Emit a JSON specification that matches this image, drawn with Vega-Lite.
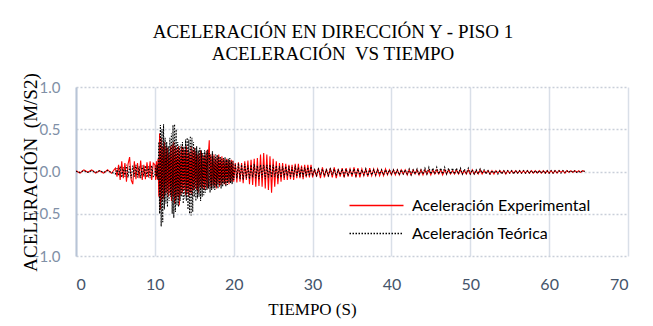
{
  "$schema": "https://vega.github.io/schema/vega-lite/v6.json",
  "autosize": "none",
  "width": 552,
  "height": 169,
  "padding": {"left": 76, "top": 87, "right": 25, "bottom": 70},
  "background": "white",
  "title": {
    "text": ["ACELERACIÓN EN DIRECCIÓN Y - PISO 1", "ACELERACIÓN\u00a0 VS TIEMPO"],
    "font": "Liberation Serif",
    "fontSize": 19,
    "fontWeight": "normal",
    "color": "#000000",
    "lineHeight": 22,
    "anchor": "middle",
    "offset": 9,
    "dx": -19
  },
  "data": {
    "values": [
      {"t":0,"e":0.01,"o":0},{"t":0.5,"e":-0.02,"o":-0.01},{"t":1,"e":0.02,"o":0.01},{"t":1.5,"e":-0.01,"o":-0.01},{"t":2,"e":0.02,"o":0.01},
      {"t":2.5,"e":-0.02,"o":-0.01},{"t":3,"e":0.01,"o":0.01},{"t":3.5,"e":-0.02,"o":-0.01},{"t":4,"e":0.02,"o":0.01},{"t":4.5,"e":-0.02,"o":-0.01},
      {"t":5.0,"e":0.04,"o":-0.03},{"t":5.2,"e":-0.06,"o":0.04},{"t":5.4,"e":0.08,"o":-0.05},{"t":5.6,"e":-0.1,"o":0.06},{"t":5.8,"e":0.12,"o":-0.07},
      {"t":6.0,"e":-0.08,"o":0.05},{"t":6.2,"e":0.1,"o":-0.06},{"t":6.4,"e":-0.12,"o":0.08},{"t":6.6,"e":0.09,"o":-0.07},{"t":6.8,"e":0.17,"o":0.06},
      {"t":7.0,"e":-0.1,"o":-0.08},{"t":7.2,"e":-0.15,"o":0.07},{"t":7.4,"e":0.12,"o":-0.06},{"t":7.6,"e":-0.09,"o":0.08},{"t":7.8,"e":0.1,"o":-0.07},
      {"t":8.0,"e":-0.08,"o":0.06},{"t":8.2,"e":0.13,"o":-0.08},{"t":8.4,"e":-0.1,"o":0.07},{"t":8.6,"e":0.08,"o":-0.06},{"t":8.8,"e":-0.09,"o":0.07},
      {"t":9.0,"e":0.11,"o":-0.07},{"t":9.2,"e":-0.07,"o":0.06},{"t":9.4,"e":0.12,"o":-0.08},{"t":9.6,"e":-0.1,"o":0.07},{"t":9.8,"e":0.1,"o":-0.06},
      {"t":10.0,"e":0.08,"o":-0.05},{"t":10.1,"e":-0.1,"o":0.07},{"t":10.2,"e":0.12,"o":-0.06},{"t":10.3,"e":-0.09,"o":0.08},{"t":10.4,"e":0.15,"o":-0.1},
      {"t":10.5,"e":-0.3,"o":0.35},{"t":10.6,"e":0.45,"o":-0.5},{"t":10.7,"e":-0.45,"o":0.55},{"t":10.8,"e":0.4,"o":-0.65},{"t":10.9,"e":-0.35,"o":0.5},
      {"t":11.0,"e":0.3,"o":-0.6},{"t":11.1,"e":-0.32,"o":0.56},{"t":11.2,"e":0.35,"o":-0.45},{"t":11.3,"e":-0.28,"o":0.4},{"t":11.4,"e":0.3,"o":-0.38},
      {"t":11.5,"e":-0.25,"o":0.35},{"t":11.6,"e":0.28,"o":-0.42},{"t":11.7,"e":-0.3,"o":0.3},{"t":11.8,"e":0.22,"o":-0.35},{"t":11.9,"e":-0.26,"o":0.4},
      {"t":12.0,"e":0.3,"o":-0.3},{"t":12.1,"e":-0.35,"o":0.45},{"t":12.2,"e":0.32,"o":-0.5},{"t":12.3,"e":-0.3,"o":0.55},{"t":12.4,"e":0.35,"o":-0.55},
      {"t":12.5,"e":-0.38,"o":0.56},{"t":12.6,"e":0.3,"o":-0.48},{"t":12.7,"e":-0.33,"o":0.5},{"t":12.8,"e":0.28,"o":-0.4},{"t":12.9,"e":-0.3,"o":0.35},
      {"t":13.0,"e":0.3,"o":-0.42},{"t":13.1,"e":-0.4,"o":0.3},{"t":13.2,"e":0.25,"o":-0.35},{"t":13.3,"e":-0.28,"o":0.32},{"t":13.4,"e":0.3,"o":-0.3},
      {"t":13.5,"e":-0.25,"o":0.35},{"t":13.6,"e":0.28,"o":-0.38},{"t":13.7,"e":-0.22,"o":0.3},{"t":13.8,"e":0.25,"o":-0.32},{"t":13.9,"e":-0.28,"o":0.38},
      {"t":14.0,"e":0.3,"o":-0.35},{"t":14.1,"e":-0.25,"o":0.4},{"t":14.2,"e":0.26,"o":-0.45},{"t":14.3,"e":-0.3,"o":0.38},{"t":14.4,"e":0.22,"o":-0.5},
      {"t":14.5,"e":-0.25,"o":0.42},{"t":14.6,"e":0.3,"o":-0.52},{"t":14.7,"e":-0.28,"o":0.4},{"t":14.8,"e":0.25,"o":-0.48},{"t":14.9,"e":-0.22,"o":0.35},
      {"t":15.0,"e":0.28,"o":-0.3},{"t":15.1,"e":-0.2,"o":0.28},{"t":15.2,"e":0.24,"o":-0.35},{"t":15.3,"e":-0.22,"o":0.3},{"t":15.4,"e":0.2,"o":-0.32},
      {"t":15.5,"e":-0.25,"o":0.25},{"t":15.6,"e":0.22,"o":-0.3},{"t":15.7,"e":-0.18,"o":0.28},{"t":15.8,"e":0.25,"o":-0.35},{"t":15.9,"e":-0.2,"o":0.25},
      {"t":16.0,"e":0.22,"o":-0.3},{"t":16.1,"e":-0.2,"o":0.22},{"t":16.2,"e":0.18,"o":-0.28},{"t":16.3,"e":-0.22,"o":0.25},{"t":16.4,"e":0.2,"o":-0.25},
      {"t":16.5,"e":-0.18,"o":0.24},{"t":16.6,"e":0.25,"o":-0.22},{"t":16.7,"e":-0.2,"o":0.26},{"t":16.8,"e":0.22,"o":-0.2},{"t":16.9,"e":0.37,"o":0.22},
      {"t":17.0,"e":-0.18,"o":-0.25},{"t":17.1,"e":0.2,"o":0.2},{"t":17.2,"e":-0.2,"o":-0.22},{"t":17.3,"e":0.18,"o":0.24},{"t":17.4,"e":-0.16,"o":-0.2},
      {"t":17.5,"e":0.2,"o":0.18},{"t":17.6,"e":-0.18,"o":-0.22},{"t":17.7,"e":0.15,"o":0.2},{"t":17.8,"e":-0.2,"o":-0.18},{"t":17.9,"e":0.18,"o":0.2},
      {"t":18.0,"e":-0.15,"o":-0.2},{"t":18.1,"e":0.2,"o":0.18},{"t":18.2,"e":-0.18,"o":-0.16},{"t":18.3,"e":0.15,"o":0.18},{"t":18.4,"e":-0.16,"o":-0.2},
      {"t":18.5,"e":0.18,"o":0.15},{"t":18.6,"e":-0.14,"o":-0.18},{"t":18.7,"e":0.16,"o":0.16},{"t":18.8,"e":-0.15,"o":-0.15},{"t":18.9,"e":0.14,"o":0.17},
      {"t":19.0,"e":-0.16,"o":-0.18},{"t":19.1,"e":0.15,"o":0.14},{"t":19.2,"e":-0.12,"o":-0.16},{"t":19.3,"e":0.14,"o":0.15},{"t":19.4,"e":-0.15,"o":-0.13},
      {"t":19.5,"e":0.12,"o":0.16},{"t":19.6,"e":-0.13,"o":-0.14},{"t":19.7,"e":0.14,"o":0.12},{"t":19.8,"e":-0.12,"o":-0.15},{"t":19.9,"e":0.13,"o":0.12},
      {"t":20.0,"e":-0.12,"o":-0.1},{"t":20.2,"e":0.1,"o":0.09},{"t":20.4,"e":-0.13,"o":-0.08},{"t":20.6,"e":0.11,"o":0.1},{"t":20.8,"e":-0.12,"o":-0.09},
      {"t":21.0,"e":0.1,"o":0.08},{"t":21.2,"e":-0.14,"o":-0.1},{"t":21.4,"e":0.12,"o":0.09},{"t":21.6,"e":-0.1,"o":-0.08},{"t":21.8,"e":0.13,"o":0.07},
      {"t":22.0,"e":-0.15,"o":-0.09},{"t":22.2,"e":0.14,"o":0.08},{"t":22.4,"e":-0.16,"o":-0.07},{"t":22.6,"e":0.15,"o":0.09},{"t":22.8,"e":-0.18,"o":-0.08},
      {"t":23.0,"e":0.16,"o":0.07},{"t":23.2,"e":-0.17,"o":-0.09},{"t":23.4,"e":0.2,"o":0.08},{"t":23.6,"e":-0.18,"o":-0.07},{"t":23.8,"e":0.22,"o":0.08},
      {"t":24.0,"e":-0.2,"o":-0.09},{"t":24.2,"e":0.2,"o":0.08},{"t":24.4,"e":-0.22,"o":-0.07},{"t":24.6,"e":0.18,"o":0.08},{"t":24.8,"e":-0.25,"o":-0.07},
      {"t":25.0,"e":0.15,"o":0.08},{"t":25.2,"e":-0.18,"o":-0.06},{"t":25.4,"e":0.12,"o":0.07},{"t":25.6,"e":-0.15,"o":-0.08},{"t":25.8,"e":0.1,"o":0.06},
      {"t":26.0,"e":-0.12,"o":-0.07},{"t":26.2,"e":0.1,"o":0.06},{"t":26.4,"e":-0.1,"o":-0.07},{"t":26.6,"e":0.09,"o":0.06},{"t":26.8,"e":-0.1,"o":-0.05},
      {"t":27.0,"e":0.08,"o":0.06},{"t":27.2,"e":-0.09,"o":-0.07},{"t":27.4,"e":0.08,"o":0.05},{"t":27.6,"e":-0.1,"o":-0.06},{"t":27.8,"e":0.09,"o":0.07},
      {"t":28.0,"e":-0.08,"o":-0.06},{"t":28.2,"e":0.09,"o":0.05},{"t":28.4,"e":-0.08,"o":-0.06},{"t":28.6,"e":0.07,"o":0.05},{"t":28.8,"e":-0.09,"o":-0.06},
      {"t":29.0,"e":0.08,"o":0.05},{"t":29.2,"e":-0.07,"o":-0.06},{"t":29.4,"e":0.08,"o":0.05},{"t":29.6,"e":-0.07,"o":-0.05},{"t":29.8,"e":0.08,"o":0.06},
      {"t":30.0,"e":-0.07,"o":-0.05},{"t":30.25,"e":0.03,"o":0.02},{"t":30.5,"e":-0.06,"o":-0.05},{"t":30.75,"e":0.04,"o":0.03},
      {"t":31.0,"e":-0.08,"o":-0.04},{"t":31.25,"e":0.05,"o":0.03},{"t":31.5,"e":-0.07,"o":-0.05},{"t":31.75,"e":0.03,"o":0.02},
      {"t":32.0,"e":-0.06,"o":-0.05},{"t":32.25,"e":0.04,"o":0.03},{"t":32.5,"e":-0.07,"o":-0.04},{"t":32.75,"e":0.05,"o":0.03},
      {"t":33.0,"e":-0.08,"o":-0.05},{"t":33.25,"e":0.03,"o":0.02},{"t":33.5,"e":-0.06,"o":-0.04},{"t":33.75,"e":0.04,"o":0.03},
      {"t":34.0,"e":-0.07,"o":-0.05},{"t":34.25,"e":0.04,"o":0.03},{"t":34.5,"e":-0.06,"o":-0.05},{"t":34.75,"e":0.03,"o":0.02},
      {"t":35.0,"e":-0.06,"o":-0.04},{"t":35.25,"e":0.05,"o":0.03},{"t":35.5,"e":-0.07,"o":-0.05},{"t":35.75,"e":0.04,"o":0.03},
      {"t":36.0,"e":-0.07,"o":-0.04},{"t":36.25,"e":0.03,"o":0.02},{"t":36.5,"e":-0.05,"o":-0.04},{"t":36.75,"e":0.03,"o":0.03},
      {"t":37.0,"e":-0.06,"o":-0.05},{"t":37.25,"e":0.04,"o":0.02},{"t":37.5,"e":-0.05,"o":-0.04},{"t":37.75,"e":0.03,"o":0.02},
      {"t":38.0,"e":-0.05,"o":-0.04},{"t":38.25,"e":0.03,"o":0.02},{"t":38.5,"e":-0.05,"o":-0.03},{"t":38.75,"e":0.02,"o":0.02},
      {"t":39.0,"e":-0.05,"o":-0.04},{"t":39.25,"e":0.03,"o":0.02},{"t":39.5,"e":-0.04,"o":-0.03},{"t":39.75,"e":0.02,"o":0.02},
      {"t":40.0,"e":-0.04,"o":-0.03},{"t":40.25,"e":0.02,"o":0.02},{"t":40.5,"e":-0.04,"o":-0.03},{"t":40.75,"e":0.02,"o":0.02},
      {"t":41.0,"e":-0.04,"o":-0.04},{"t":41.25,"e":0.02,"o":0.02},{"t":41.5,"e":-0.03,"o":-0.03},{"t":41.75,"e":0.02,"o":0.02},
      {"t":42.0,"e":-0.04,"o":-0.03},{"t":42.25,"e":0.02,"o":0.03},{"t":42.5,"e":-0.04,"o":-0.04},{"t":42.75,"e":0.02,"o":0.02},
      {"t":43.0,"e":-0.03,"o":-0.03},{"t":43.25,"e":0.02,"o":0.03},{"t":43.5,"e":-0.04,"o":-0.04},{"t":43.75,"e":0.02,"o":0.02},
      {"t":44.0,"e":-0.04,"o":-0.03},{"t":44.25,"e":0.02,"o":0.04},{"t":44.5,"e":-0.03,"o":-0.03},{"t":44.75,"e":0.02,"o":0.05},
      {"t":45.0,"e":-0.04,"o":-0.03},{"t":45.25,"e":0.02,"o":0.04},{"t":45.5,"e":-0.03,"o":-0.03},{"t":45.75,"e":0.02,"o":0.05},
      {"t":46.0,"e":-0.03,"o":-0.03},{"t":46.25,"e":0.02,"o":0.04},{"t":46.5,"e":-0.04,"o":-0.03},{"t":46.75,"e":0.02,"o":0.05},
      {"t":47.0,"e":-0.03,"o":-0.03},{"t":47.25,"e":0.02,"o":0.04},{"t":47.5,"e":-0.03,"o":-0.03},{"t":47.75,"e":0.01,"o":0.04},
      {"t":48.0,"e":-0.03,"o":-0.03},{"t":48.25,"e":0.02,"o":0.04},{"t":48.5,"e":-0.03,"o":-0.03},{"t":48.75,"e":0.02,"o":0.04},
      {"t":49.0,"e":-0.03,"o":-0.03},{"t":49.25,"e":0.01,"o":0.03},{"t":49.5,"e":-0.03,"o":-0.02},{"t":49.75,"e":0.02,"o":0.04},
      {"t":50.0,"e":-0.03,"o":-0.03},{"t":50.25,"e":0.02,"o":0.02},{"t":50.5,"e":-0.03,"o":-0.03},{"t":50.75,"e":0.01,"o":0.02},
      {"t":51.0,"e":-0.03,"o":-0.03},{"t":51.25,"e":0.02,"o":0.03},{"t":51.5,"e":-0.03,"o":-0.02},{"t":51.75,"e":0.01,"o":0.02},
      {"t":52.0,"e":-0.02,"o":-0.03},{"t":52.25,"e":0.01,"o":0.01},{"t":52.5,"e":-0.03,"o":-0.03},{"t":52.75,"e":0.01,"o":0.01},
      {"t":53.0,"e":-0.03,"o":-0.02},{"t":53.25,"e":0.01,"o":0.01},{"t":53.5,"e":-0.02,"o":-0.03},{"t":53.75,"e":0.01,"o":0.01},
      {"t":54.0,"e":-0.02,"o":-0.03},{"t":54.25,"e":0.01,"o":0.01},{"t":54.5,"e":-0.03,"o":-0.02},{"t":54.75,"e":0.01,"o":0.01},
      {"t":55.0,"e":-0.02,"o":-0.02},{"t":55.25,"e":0.01,"o":0.01},{"t":55.5,"e":-0.02,"o":-0.03},{"t":55.75,"e":0.01,"o":0.01},
      {"t":56.0,"e":-0.02,"o":-0.02},{"t":56.25,"e":0.01,"o":0.01},{"t":56.5,"e":-0.02,"o":-0.02},{"t":56.75,"e":0.01,"o":0.01},
      {"t":57.0,"e":-0.02,"o":-0.02},{"t":57.25,"e":0.01,"o":0.01},{"t":57.5,"e":-0.02,"o":-0.02},{"t":57.75,"e":0.01,"o":0.01},
      {"t":58.0,"e":-0.02,"o":-0.02},{"t":58.25,"e":0.01,"o":0.01},{"t":58.5,"e":-0.02,"o":-0.02},{"t":58.75,"e":0.01,"o":0.01},
      {"t":59.0,"e":-0.02,"o":-0.02},{"t":59.25,"e":0.01,"o":0.01},{"t":59.5,"e":-0.02,"o":-0.02},{"t":59.75,"e":0.01,"o":0.01},
      {"t":60.0,"e":-0.02,"o":-0.02},{"t":60.25,"e":0.01,"o":0.01},{"t":60.5,"e":-0.02,"o":-0.02},{"t":60.75,"e":0.01,"o":0.01},
      {"t":61.0,"e":-0.02,"o":-0.01},{"t":61.25,"e":0.01,"o":0.01},{"t":61.5,"e":-0.01,"o":-0.02},{"t":61.75,"e":0.01,"o":0.01},
      {"t":62.0,"e":-0.02,"o":-0.01},{"t":62.25,"e":0.01,"o":0.01},{"t":62.5,"e":-0.01,"o":-0.01},{"t":62.75,"e":0.01,"o":0.01},
      {"t":63.0,"e":-0.01,"o":-0.01},{"t":63.25,"e":0.01,"o":0.01},{"t":63.5,"e":-0.01,"o":-0.01},{"t":63.75,"e":0.01,"o":0},
      {"t":64.0,"e":-0.01,"o":-0.01},{"t":64.25,"e":0.01,"o":0.01},{"t":64.5,"e":0,"o":0}
    ]
  },
  "transform": [{"fold": ["e", "o"], "as": ["s", "a"]}],
  "mark": {"type": "line", "clip": true, "strokeWidth": 1.1},
  "encoding": {
    "x": {
      "field": "t", "type": "quantitative",
      "scale": {"domain": [0, 70], "nice": false},
      "axis": {
        "values": [0, 10, 20, 30, 40, 50, 60, 70],
        "title": "TIEMPO (S)",
        "titleFont": "Liberation Serif", "titleFontSize": 17, "titleFontWeight": "normal", "titleColor": "#000000",
        "titleX": 236, "titleY": 53, "titleBaseline": "middle",
        "labelFont": "Lato", "labelFontSize": 16, "labelColor": "#44546A", "labelPadding": 20,
        "domain": false, "ticks": false,
        "grid": true, "gridColor": "#D9DFE8", "gridWidth": 1.5
      }
    },
    "y": {
      "field": "a", "type": "quantitative",
      "scale": {"domain": [-1, 1], "nice": false},
      "axis": {
        "values": [-1, -0.5, 0, 0.5, 1],
        "format": ".1f",
        "title": "ACELERACIÓN\u00a0 (M/S2)",
        "titleFont": "Liberation Serif", "titleFontSize": 19, "titleFontWeight": "normal", "titleColor": "#000000",
        "titleX": -46, "titleY": 85, "titleAngle": -90, "titleAlign": "center", "titleBaseline": "middle",
        "labelFont": "Lato", "labelFontSize": 15, "labelColor": "#8090A6", "labelPadding": 16,
        "domain": true, "domainColor": "#B8C4D6", "domainWidth": 2, "ticks": false,
        "grid": true, "gridColor": "#C9CFD9", "gridDash": [2, 2], "gridWidth": 1.5
      }
    },
    "color": {
      "field": "s", "type": "nominal",
      "scale": {"domain": ["e", "o"], "range": ["#FF0000", "#000000"]},
      "legend": {
        "title": null, "orient": "none", "legendX": 286, "legendY": 104,
        "labelExpr": "datum.value == 'e' ? 'Aceleración Experimental' : 'Aceleración Teórica'",
        "labelFont": "Lato", "labelFontSize": 16, "labelColor": "#000000", "labelOffset": 21, "labelLimit": 400,
        "symbolType": "M-2,0H2", "symbolSize": 729, "symbolStrokeWidth": 1.5, "symbolFillColor": "transparent", "rowPadding": 5
      }
    },
    "strokeDash": {
      "field": "s", "type": "nominal",
      "scale": {"domain": ["e", "o"], "range": [[1, 0], [1.5, 1.5]]},
      "legend": {
        "title": null, "orient": "none", "legendX": 286, "legendY": 104,
        "labelExpr": "datum.value == 'e' ? 'Aceleración Experimental' : 'Aceleración Teórica'",
        "labelFont": "Lato", "labelFontSize": 16, "labelColor": "#000000", "labelOffset": 21, "labelLimit": 400,
        "symbolType": "M-2,0H2", "symbolSize": 729, "symbolStrokeWidth": 1.5, "symbolFillColor": "transparent", "rowPadding": 5
      }
    }
  },
  "config": {"view": {"stroke": null}}
}
